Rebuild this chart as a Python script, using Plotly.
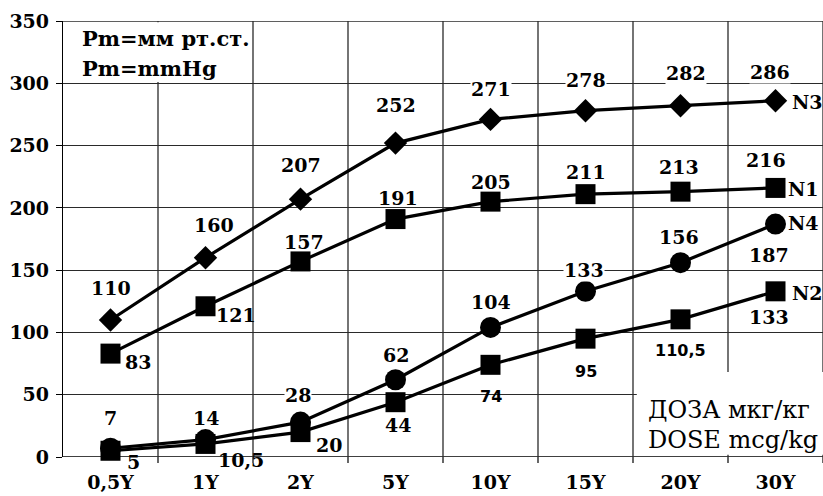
import plotly.graph_objects as go

# Dose groups along the x axis
categories = ["0,5Y", "1Y", "2Y", "5Y", "10Y", "15Y", "20Y", "30Y"]

# Pm values (mmHg) for each series
n3_values = [110, 160, 207, 252, 271, 278, 282, 286]
n1_values = [83, 121, 157, 191, 205, 211, 213, 216]
n4_values = [7, 14, 28, 62, 104, 133, 156, 187]
n2_values = [5, 10.5, 20, 44, 74, 95, 110.5, 133]

y_tick_values = [0, 50, 100, 150, 200, 250, 300, 350]

# Pixel offsets (dx, dy; dy up) of the value labels relative to their points
n3_label_offsets = [(0, 32), (8, 33), (0, 34), (0, 38), (0, 30), (0, 31), (5, 33), (-6, 29)]
n1_label_offsets = [(27, -8), (30, -9), (3, 19), (2, 21), (0, 20), (0, 22), (-2, 25), (-10, 28)]
n4_label_offsets = [(0, 30), (0, 22), (-3, 27), (0, 25), (0, 25), (-2, 21), (-2, 26), (-7, -31)]
n2_label_offsets = [(23, -11), (35, -16), (28, -13), (2, -23), (0, -32), (0, -33), (0, -31), (-7, -26)]

SERIF = "DejaVu Serif"
SANS = "DejaVu Sans"
GRID = "#2a2a2a"


def fmt(v):
    return f"{v:g}".replace(".", ",")


series = [
    # name, values, marker symbol, marker size, label offsets, name offset,
    # indices of labels set in sans, indices of labels with white backing
    ("N3", n3_values, "diamond", 18, n3_label_offsets, (32, -1), set(), {4, 5, 6, 7}),
    ("N1", n1_values, "square", 20, n1_label_offsets, (28, -1), set(), set()),
    ("N4", n4_values, "circle", 21, n4_label_offsets, (28, 1), set(), {2, 5}),
    ("N2", n2_values, "square", 20, n2_label_offsets, (32, -2), {4, 5, 6}, set()),
]

fig = go.Figure()
annotations = []
x_idx = list(range(len(categories)))
boundaries = [i + 0.5 for i in x_idx]

# Category boundaries: vertical grid lines drawn beneath the series
fig.add_trace(go.Scatter(
    x=[b for bd in boundaries for b in (bd, bd, None)],
    y=[v for _ in boundaries for v in (0, 350, None)],
    mode="lines", line=dict(color=GRID, width=1.3),
    hoverinfo="skip", showlegend=False,
))

for name, vals, symbol, msize, offsets, name_off, sans_idx, backed_idx in series:
    fig.add_trace(go.Scatter(
        x=x_idx, y=vals, mode="lines+markers", name=name,
        line=dict(color="black", width=3.2),
        marker=dict(symbol=symbol, size=msize, color="black", line=dict(width=0)),
        cliponaxis=False, showlegend=False,
    ))
    for i, (v, (dx, dy)) in enumerate(zip(vals, offsets)):
        sans = i in sans_idx
        annotations.append(dict(
            x=i, y=v, xref="x", yref="y", text=fmt(v), showarrow=False,
            xshift=dx, yshift=dy,
            font=dict(family=SANS if sans else SERIF, size=16 if sans else 19,
                      color="black", weight="bold"),
            bgcolor="white" if i in backed_idx else None, borderpad=0,
        ))
    annotations.append(dict(
        x=len(vals) - 1, y=vals[-1], xref="x", yref="y", text=name, showarrow=False,
        xshift=name_off[0], yshift=name_off[1],
        font=dict(family=SERIF, size=19, color="black", weight="bold"),
    ))

# Notes: unit of Pm (top left) and dose unit (bottom right)
notes = [
    ("Pm=мм рт.ст.", 0.0224, 0.961, dict(size=21, weight="bold")),
    ("Pm=mmHg", 0.0224, 0.892, dict(size=21, weight="bold")),
    ("ДОЗА мкг/кг", 0.767, 0.108, dict(size=24)),
    ("DOSE mcg/kg", 0.767, 0.039, dict(size=24)),
]
for text, nx, ny, fnt in notes:
    annotations.append(dict(
        x=nx, y=ny, xref="paper", yref="paper", xanchor="left", yanchor="middle",
        text=text, showarrow=False,
        font=dict(family=SERIF, color="black", **fnt),
    ))

fig.update_layout(
    width=823, height=496,
    margin=dict(l=63, r=0, t=21, b=39, autoexpand=False),
    paper_bgcolor="white", plot_bgcolor="white",
    annotations=annotations,
    xaxis=dict(
        type="linear", range=[-0.5, len(categories) - 0.5],
        tickmode="array", tickvals=x_idx, ticktext=categories,
        ticks="", showgrid=False, zeroline=False,
        showline=False, automargin=False,
        tickfont=dict(family=SERIF, size=19, color="black", weight="bold"),
        ticklabelstandoff=12,
    ),
    yaxis=dict(
        range=[0, 350], tickmode="array", tickvals=y_tick_values,
        ticks="outside", ticklen=6, tickwidth=1, tickcolor="black",
        showgrid=True, gridcolor=GRID, gridwidth=1.3,
        zeroline=False, showline=True, linecolor="black", linewidth=1.3,
        automargin=False,
        tickfont=dict(family=SERIF, size=19, color="black", weight="bold"),
        ticklabelstandoff=3,
    ),
)

# White panels behind the two notes
fig.add_shape(type="rect", xref="paper", yref="paper", x0=0.003, x1=0.246,
              y0=0.860, y1=0.997, fillcolor="white", line=dict(width=0), layer="above")
fig.add_shape(type="rect", xref="paper", yref="paper", x0=0.755, x1=1.0,
              y0=0.005, y1=0.195, fillcolor="white", line=dict(width=0), layer="above")

# Top frame line and the zero baseline
fig.add_shape(type="line", xref="paper", yref="y", x0=0, x1=1, y0=350, y1=350,
              line=dict(color=GRID, width=1.5), layer="below")
fig.add_shape(type="line", xref="x", yref="y", x0=-0.5, x1=len(categories) - 0.5,
              y0=0, y1=0, line=dict(color="black", width=1.6), layer="below")
# Short ticks under the axis at the category boundaries
for bd in boundaries:
    fig.add_shape(type="line", xref="x", yref="paper", x0=bd, x1=bd,
                  y0=0, y1=-0.014, line=dict(color="black", width=1.2))

fig.write_html("out.html")
